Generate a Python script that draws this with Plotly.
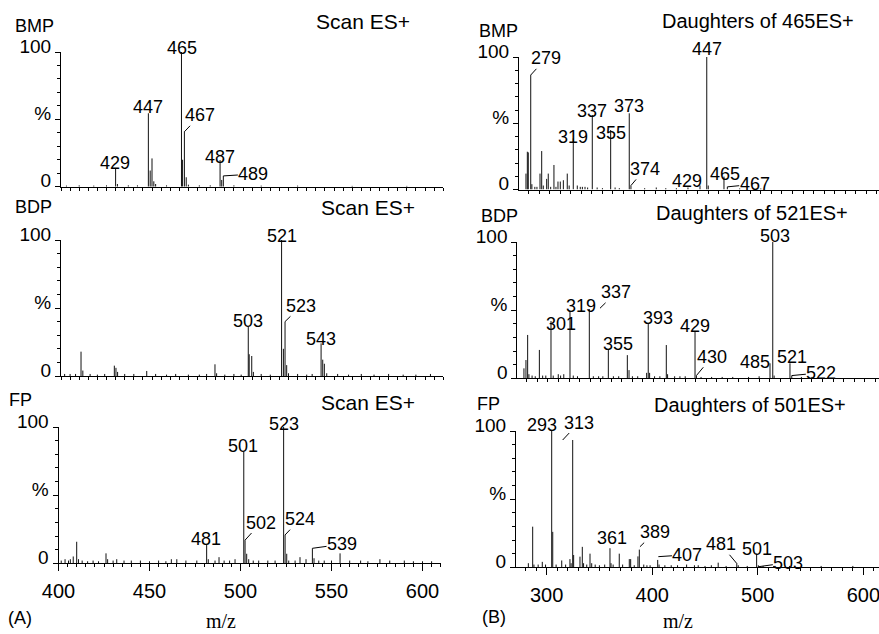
import plotly.graph_objects as go

W, H = 879, 634
SANS = "Liberation Sans, Arial, sans-serif"
SERIF = "Liberation Serif, Times New Roman, serif"

# ---------------- data (m/z, % intensity) ----------------
# (A) full scans
bmp_scan_mz = [403, 410, 418, 425, 430.0, 431.0, 437, 442, 448.0, 449.0, 450.0, 451.0, 452.0, 458,
               466.2, 466.8, 467.8, 468.8, 470, 476, 482, 487.4, 488.3, 489.2, 495, 510, 530, 560, 590]
bmp_scan_int = [0.8, 1, 0.8, 1, 13.7, 2, 1, 1, 54.5, 12, 21, 4, 2, 1,
                100, 20, 41, 7, 1.5, 1, 1, 19.8, 5, 8, 1, 0.8, 0.8, 0.6, 0.6]

bdp_scan_mz = [402, 405, 408, 411.0, 412.0, 416, 420, 424, 429.3, 430.2, 431.1, 435, 440, 447.1, 452, 458,
               463, 470, 476, 480, 484.6, 485.5, 490, 495, 499, 502.9, 503.4, 504.8, 505.7, 510, 515,
               521.2, 522.2, 523.1, 524.0, 525.0, 530, 535, 538, 542.9, 543.8, 544.7, 546, 552, 558,
               565, 572, 580, 588, 595, 603]
bdp_scan_int = [1.5, 1.5, 1.5, 17.9, 4, 1.5, 1, 1.5, 7.6, 6, 3, 1.5, 1.5, 3.7, 1.5, 1,
                1.5, 1, 1, 1.5, 8.6, 2, 1, 1.5, 1, 36, 16, 14.7, 3, 1.5, 1,
                100, 20, 40, 8, 2, 1.5, 1, 1.5, 24, 12, 9, 2, 1.5, 1,
                1.5, 1, 1.5, 1, 1, 1.5]

fp_scan_mz = [401.5, 403.6, 405.5, 406.5, 408.1, 410.0, 411.0, 413, 416, 419, 422, 426.1, 427, 430, 432,
              436, 440, 445, 450, 455, 459, 462, 465, 470, 476, 481.4, 482.3, 486, 488.2, 491, 494, 497,
              501.8, 502.5, 503.4, 504.5, 507, 510, 515, 519, 523.7, 524.5, 525.4, 526.5, 530, 532.7,
              536, 539.5, 540.4, 543, 546, 550, 554.7, 560, 566, 570, 576.6, 582, 590, 595, 600, 605]
fp_scan_int = [2, 3, 2, 3, 5, 15.8, 3, 2, 1.5, 2, 1.5, 7.3, 3, 2, 3,
               2, 2, 2, 1.5, 2, 1.5, 3, 3, 2, 2, 13.4, 3, 2, 4.5, 2, 2, 3,
               82, 17, 7, 3, 2, 2, 2, 2, 100, 20.8, 7, 2, 2, 4.5,
               3, 11, 3.7, 2, 2, 2, 7.3, 2, 2, 1.5, 3, 2, 2, 1.5, 1.5, 1.5]

# (B) daughter-ion spectra
bmp_dau_mz = [277.6, 278.9, 279.8, 282.1, 283.2, 286, 288, 290.9, 292.5, 294, 297.2, 298.7, 301, 304.1,
              306, 307.9, 310.1, 313, 316.7, 318.5, 322.4, 326.2, 329, 331, 333.5, 336, 340.4, 345, 350,
              357.8, 362, 366, 375.4, 377, 390, 401, 410, 420, 431, 442.4, 448.8, 450.2, 465.1, 468.3,
              480, 500]
bmp_dau_int = [12, 28.5, 28, 86.4, 4, 2, 2, 12, 29, 3, 8, 12, 2, 18.5,
               2, 6, 6, 7, 12, 3, 38.6, 3, 2, 2, 2, 1.5, 56.2, 1.5, 1,
               44.9, 1.5, 1, 57.5, 3, 1, 1.5, 1, 1, 1.5, 3, 100, 3, 9.7, 2,
               0.8, 0.8]

bdp_dau_mz = [277.3, 279.2, 280.8, 282, 285, 288, 291.9, 295, 298, 302.9, 305, 309.8, 312, 315, 320.9,
              324, 328, 339.2, 343, 348, 352, 357.2, 362, 367, 375.2, 376.8, 380, 385, 393.5, 395, 396.3,
              401, 406, 412.1, 413.3, 420, 425, 430, 439.3, 440.6, 445, 455, 465, 475, 490, 500, 510.3,
              512.9, 514.2, 529.2, 530.9, 540, 550]
bdp_dau_int = [7.3, 13.4, 31.8, 3, 2, 1.5, 20.8, 2, 2, 42, 2, 3, 2, 3, 48.9,
               2, 1.5, 50.8, 1.5, 1.5, 1.5, 20.8, 1.5, 1.5, 17, 6, 1.5, 1.5, 4, 40.3, 4,
               1.5, 1.5, 24.4, 3, 1.5, 1.5, 1.5, 34.2, 2, 1, 1, 1, 1, 1, 1.5, 11,
               100, 2, 11, 2, 1, 1]

fp_dau_mz = [282.7, 286.8, 288, 292, 295.9, 299, 304.8, 305.8, 309, 314.3, 318, 322.1, 323.2, 324.7, 325.6,
             331.6, 333.8, 335, 338, 341.1, 342.7, 346, 350, 355, 360, 361, 363, 368.8, 372, 378.3, 379.6,
             383, 386.5, 387.8, 392, 395, 398, 405.2, 406.5, 412, 418, 424, 432.6, 440, 443.6, 450, 456,
             462.5, 470, 480.1, 481.5, 490, 498.9, 500.5, 505, 515, 530, 560, 590]
fp_dau_int = [3, 29.8, 2, 2, 4, 2, 100, 26, 2, 5, 2, 6, 3, 93.4, 9,
              7.8, 15, 3, 2, 10, 3, 2, 1.5, 2, 14, 3, 2, 10, 2, 6, 6,
              1.5, 8, 13, 2, 1.5, 1.5, 5.4, 2, 1.5, 1.5, 1.5, 2, 1.5, 1.5, 1, 1.5,
              3.4, 1, 3, 1.5, 1, 10, 1.5, 1, 1, 1, 1, 1]

# peak labels: (text, label m/z, label %, leader-head m/z, leader-head %)
bmp_scan_labels = [("429", 429.7, 17.4, None, None), ("447", 448.0, 59.4, None, None),
                   ("465", 466.3, 103.2, None, None), ("467", 476.4, 53.0, 467.8, 40.8),
                   ("487", 487.4, 22.3, None, None), ("489", 505.7, 9.4, 489.2, 8)]
bdp_scan_labels = [("503", 502.9, 40.6, None, None), ("521", 521.3, 103.1, None, None),
                   ("523", 532.0, 51.6, 523.1, 40), ("543", 543.0, 27.1, None, None)]
fp_scan_labels = [("501", 501.5, 86.2, None, None), ("523", 523.8, 102.1, None, None),
                  ("481", 480.9, 18.0, None, None), ("502", 511.3, 29.9, 502.5, 17),
                  ("524", 532.7, 32.4, 524.5, 20.8), ("539", 555.8, 14.0, 539.5, 11)]
bmp_dau_labels = [("279", 296.6, 99.0, 282.1, 86.4), ("319", 321.7, 39.8, None, None),
                  ("337", 339.8, 59.4, None, None), ("355", 357.9, 43.0, None, None),
                  ("373", 375.6, 63.2, None, None), ("374", 390.3, 15.5, 377, 3),
                  ("429", 429.8, 6.6, None, None), ("447", 448.8, 105.9, None, None),
                  ("465", 466.1, 11.5, None, None), ("467", 494.2, 4.0, 468.3, 2)]
bdp_dau_labels = [("301", 312.7, 40.1, None, None), ("319", 331.0, 53.4, None, None),
                  ("337", 364.8, 63.1, 349.3, 51.4), ("355", 366.6, 25.0, None, None),
                  ("393", 404.5, 44.6, None, None), ("429", 439.6, 38.7, None, None),
                  ("430", 455.4, 15.8, 440.6, 2), ("485", 496.1, 11.6, None, None),
                  ("503", 515.3, 104.5, None, None), ("521", 531.1, 15.3, None, None),
                  ("522", 558.9, 4.1, 530.9, 2)]
fp_dau_labels = [("293", 295.6, 104.6, None, None), ("313", 330.7, 106.2, 315.2, 93.4),
                 ("361", 361.9, 21.3, None, None), ("389", 402.6, 25.8, 388.4, 15.1),
                 ("407", 433.4, 9.2, 405.8, 7.8), ("481", 464.9, 16.9, 480.0, 2.9),
                 ("501", 499.4, 13.6, None, None), ("503", 528.9, 3.5, 500.4, 0.4)]

compound_names = ["BMP", "BDP", "FP"]
scan_titles = ["Scan ES+", "Scan ES+", "Scan ES+"]
daughter_titles = ["Daughters of 465ES+", "Daughters of 521ES+", "Daughters of 501ES+"]
left_ticks = [400, 450, 500, 550, 600]
right_ticks = [300, 400, 500, 600]

# ---------------- layout geometry (pixels) ----------------
panels = [
    (bmp_scan_mz, bmp_scan_int, bmp_scan_labels, 61, 443.2, 186.7, 52, [400, 610], "L", 0),
    (bmp_dau_mz, bmp_dau_int, bmp_dau_labels, 519, 879, 189.5, 57, [271, 611.9], "R", 0),
    (bdp_scan_mz, bdp_scan_int, bdp_scan_labels, 61, 443.2, 376, 240, [400, 610], "L", 1),
    (bdp_dau_mz, bdp_dau_int, bdp_dau_labels, 517.3, 879, 378.3, 242, [271, 613.5], "R", 1),
    (fp_scan_mz, fp_scan_int, fp_scan_labels, 58.5, 440.7, 563.3, 427, [400, 610], "L", 2),
    (fp_dau_mz, fp_dau_int, fp_dau_labels, 516, 879, 567.3, 431, [271, 614.8], "R", 2),
]

fig = go.Figure()
annotations = []
lay = {}
for k, (mz, inten, labels, xl, xr, y0, y100, xr_rng, side, row) in enumerate(panels, start=1):
    assert len(mz) == len(inten), (k, len(mz), len(inten))
    xs, ys = [], []
    for m, v in zip(mz, inten):
        xs += [m, m, None]
        ys += [0, v, None]
    sfx = "" if k == 1 else str(k)
    fig.add_trace(go.Scatter(x=xs, y=ys, mode="lines", xaxis="x" + sfx, yaxis="y" + sfx,
                             line=dict(color="#111111", width=1), hoverinfo="skip",
                             showlegend=False))
    bottom = row == 2
    if side == "L":
        major = list(range(400, 611, 25))
        minor = list(range(400, 611, 5))
        ttext = [str(v) if (v in left_ticks and bottom) else "" for v in major]
    else:
        major = list(range(300, 611, 50))
        minor = list(range(280, 611, 10))
        ttext = [str(v) if (v in right_ticks and bottom) else "" for v in major]
    lay["xaxis" + sfx] = dict(
        domain=[xl / W, min(xr / W, 1)], range=xr_rng, anchor="y" + sfx, automargin=False,
        showline=True, linecolor="black", linewidth=1, showgrid=False, zeroline=False,
        ticks="outside", ticklen=7, tickwidth=1, tickcolor="black",
        tickmode="array", tickvals=major, ticktext=ttext, showticklabels=bottom,
        ticklabeloverflow="allow",
        minor=dict(ticks="outside", ticklen=3, tickwidth=1, tickcolor="black",
                   tickmode="array", tickvals=minor, showgrid=False),
        tickfont=dict(family=SANS, size=20, color="black"), ticklabelstandoff=3,
        fixedrange=True)
    lay["yaxis" + sfx] = dict(
        domain=[1 - y0 / H, 1 - y100 / H], range=[0, 100], anchor="x" + sfx, automargin=False,
        showline=True, linecolor="black", linewidth=1, showgrid=False, zeroline=False,
        ticks="outside", ticklen=5, tickwidth=1, tickcolor="black",
        tickmode="array", tickvals=[0, 50, 100], ticktext=["0", "%", "100"],
        ticklabeloverflow="allow",
        minor=dict(ticks="outside", ticklen=3, tickwidth=1, tickcolor="black",
                   tickmode="array", tickvals=list(range(0, 101, 10)), showgrid=False),
        tickfont=dict(family=SANS, size=19, color="black"), ticklabelshift=-6,
        fixedrange=True)
    px_per_pct = (y0 - y100) / 100.0
    for (txt, lm, li, hm, hi) in labels:
        font = dict(family=SANS, size=18, color="black")
        if hm is None:
            over = max(li - 100, 0)
            annotations.append(dict(x=lm, y=min(li, 100), yshift=over * px_per_pct,
                                    xref="x" + sfx, yref="y" + sfx, text=txt,
                                    showarrow=False, xanchor="center", yanchor="middle",
                                    font=font))
        else:
            annotations.append(dict(x=hm, y=hi, xref="x" + sfx, yref="y" + sfx,
                                    ax=lm, ay=li, axref="x" + sfx, ayref="y" + sfx, text=txt,
                                    showarrow=True, arrowhead=0, arrowwidth=1, arrowcolor="black",
                                    standoff=0, borderpad=0, font=font))

# panel titles (paper pixel centres)
titles = [
    (compound_names[0], 34, 26.5, 18), (scan_titles[0], 363, 21.5, 21),
    (compound_names[0], 498.5, 31, 18), (daughter_titles[0], 757.5, 20.5, 20),
    (compound_names[1], 33, 207.5, 18), (scan_titles[1], 368, 207.5, 21),
    (compound_names[1], 499, 215.5, 18), (daughter_titles[1], 751.5, 212.5, 20),
    (compound_names[2], 20, 400, 18), (scan_titles[2], 368, 402, 21),
    (compound_names[2], 489, 403.5, 18), (daughter_titles[2], 750, 404.5, 20),
    ("(A)", 20, 618, 18), ("(B)", 494, 617, 18),
]
for txt, px, py, sz in titles:
    annotations.append(dict(x=px / W, y=1 - py / H, xref="paper", yref="paper", text=txt,
                            showarrow=False, xanchor="center", yanchor="middle",
                            font=dict(family=SANS, size=sz, color="black")))
for px in (221, 678):
    annotations.append(dict(x=px / W, y=1 - 621 / H, xref="paper", yref="paper", text="m/z",
                            showarrow=False, xanchor="center", yanchor="middle",
                            font=dict(family=SERIF, size=20, color="black")))

fig.update_layout(width=W, height=H, template="none",
                  margin=dict(l=0, r=0, t=0, b=0, pad=0, autoexpand=False),
                  paper_bgcolor="white", plot_bgcolor="white", showlegend=False,
                  annotations=annotations, **lay)
fig.write_html("out.html", config={"displayModeBar": False, "staticPlot": True},
               post_script="document.body.style.margin='0';document.body.style.overflow='hidden';")
